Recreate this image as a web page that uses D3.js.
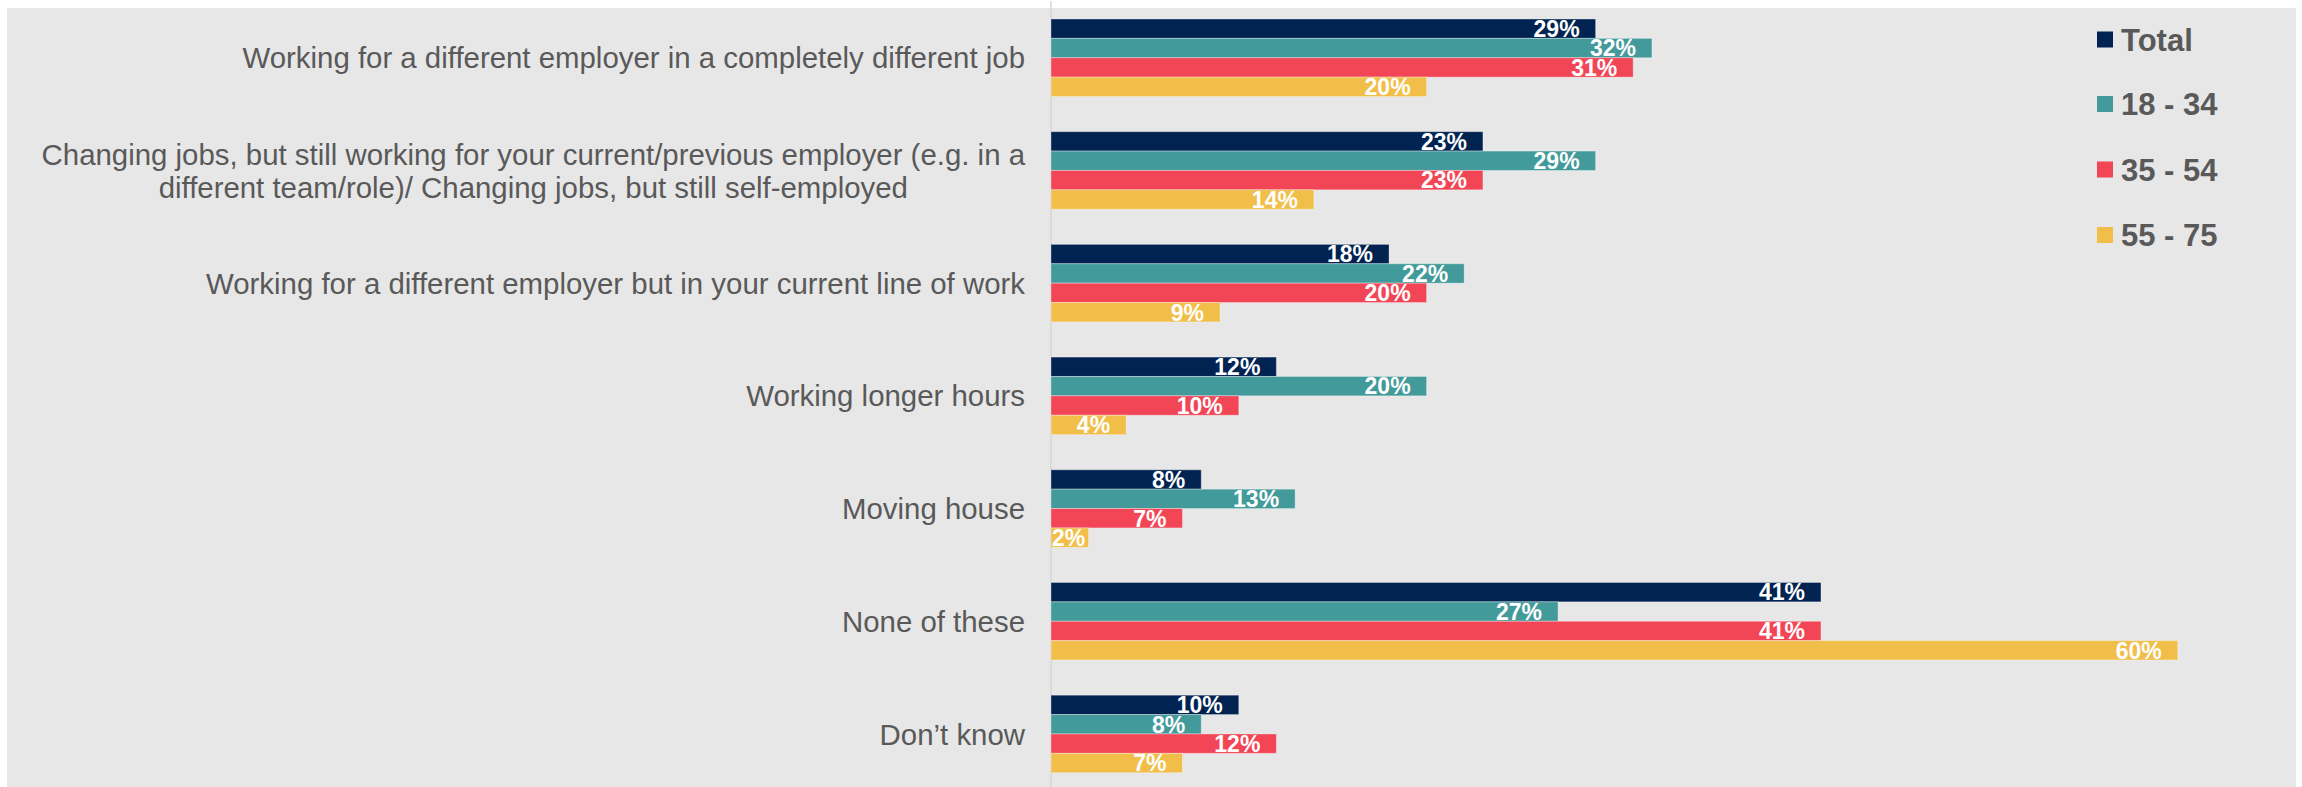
<!DOCTYPE html>
<html>
<head>
<meta charset="utf-8">
<script src="https://cdn.jsdelivr.net/npm/d3@7"></script>
<style>
  html, body { margin: 0; padding: 0; background: #ffffff; }
  svg { display: block; }
</style>
</head>
<body>
<svg id="chart" width="2302" height="787"></svg>
<script>
// ---------- DATA ----------
const categories = [
  ["Working for a different employer in a completely different job"],
  ["Changing jobs, but still working for your current/previous employer (e.g. in a",
   "different team/role)/ Changing jobs, but still self-employed"],
  ["Working for a different employer but in your current line of work"],
  ["Working longer hours"],
  ["Moving house"],
  ["None of these"],
  ["Don\u2019t know"]
];
const seriesNames = ["Total", "18 - 34", "35 - 54", "55 - 75"];
const totalValues = [29, 23, 18, 12, 8, 41, 10];
const age1834Values = [32, 29, 22, 20, 13, 27, 8];
const age3554Values = [31, 23, 20, 10, 7, 41, 12];
const age5575Values = [20, 14, 9, 4, 2, 60, 7];
const seriesColors = ["#002352", "#429a9b", "#f24556", "#f1be49"];

// ---------- LAYOUT ----------
const W = 2302, H = 787;
const svg = d3.select("#chart");
const FONT = "'Liberation Sans', Arial, Helvetica, sans-serif";
const x0 = 1051;

svg.append("rect").attr("x", 7).attr("y", 8).attr("width", 2296 - 7).attr("height", H - 8)
  .attr("fill", "#e7e7e7");

const catKeys = categories.map((c, i) => i);
const allValues = [totalValues, age1834Values, age3554Values, age5575Values];

const x = d3.scaleLinear().domain([0, 60]).range([x0, x0 + 60 * 18.78]);
const y = d3.scaleBand().domain(catKeys).range([1.4, 790.3])
  .paddingInner(0.312).paddingOuter(0.156);
const ySub = d3.scaleBand().domain(d3.range(seriesNames.length)).range([0, y.bandwidth()]);

// axis line
svg.append("line").attr("x1", x0).attr("x2", x0).attr("y1", 1).attr("y2", H)
  .attr("stroke", "#d6d6d6").attr("stroke-width", 1.5);

// bars
const groups = svg.append("g").selectAll("g").data(catKeys).join("g")
  .attr("transform", d => `translate(0,${y(d)})`);

groups.each(function(ci) {
  const g = d3.select(this);
  seriesNames.forEach((s, si) => {
    const v = allValues[si][ci];
    const bx = x(0), bw = x(v) - x(0);
    const by = ySub(si), bh = ySub.bandwidth();
    g.append("rect").attr("x", bx).attr("y", by).attr("width", bw).attr("height", bh)
      .attr("fill", seriesColors[si])
      .attr("stroke", "rgba(255,255,255,0.35)").attr("stroke-width", 1);
    const t = g.append("text")
      .attr("y", by + bh / 2).attr("dy", "0.36em")
      .attr("text-anchor", "end")
      .attr("fill", "#ffffff").attr("font-family", FONT)
      .attr("font-weight", "bold").attr("font-size", 23)
      .text(v + "%");
    const tw = t.node().getComputedTextLength();
    const end = Math.max(x(v) - 16, x(0) + tw + 1);
    t.attr("x", end);
  });
});

// category labels
const labelRight = 1025;
catKeys.forEach(ci => {
  const lines = categories[ci];
  const cy = y(ci) + y.bandwidth() / 2;
  const lh = 33;
  const t = svg.append("text").attr("font-family", FONT).attr("font-size", 29.4)
    .attr("fill", "#595959").attr("text-anchor", "middle");
  const spans = lines.map((ln, li) => t.append("tspan")
    .attr("y", cy + (li - (lines.length - 1) / 2) * lh)
    .attr("dy", "0.36em").text(ln));
  const maxW = d3.max(spans, s => s.node().getComputedTextLength());
  spans.forEach(s => s.attr("x", labelRight - maxW / 2));
});

// legend
const legendY = [39.5, 104, 169.5, 235];
seriesNames.forEach((s, si) => {
  svg.append("rect").attr("x", 2097).attr("y", legendY[si] - 8).attr("width", 16).attr("height", 16)
    .attr("fill", seriesColors[si]);
  svg.append("text").attr("x", 2121).attr("y", legendY[si]).attr("dy", "0.36em")
    .attr("font-family", FONT).attr("font-weight", "bold").attr("font-size", 31)
    .attr("fill", "#595959").text(s);
});
</script>
</body>
</html>
